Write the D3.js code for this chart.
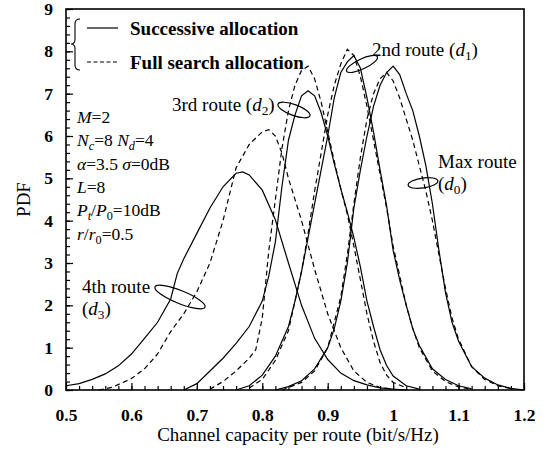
<!DOCTYPE html>
<html><head><meta charset="utf-8">
<script src="https://cdn.jsdelivr.net/npm/d3@7"></script>
<style>
body{margin:0;background:#fff}
svg{display:block}
text{font-family:"Liberation Serif","Times New Roman",serif;fill:#000}
</style>
</head><body>
<svg id="c" width="546" height="450"></svg>
<script>
// ---- data ----
const xTickValues = [0.5, 0.6, 0.7, 0.8, 0.9, 1.0, 1.1, 1.2];
const xTickLabels = ["0.5", "0.6", "0.7", "0.8", "0.9", "1", "1.1", "1.2"];
const yTickValues = [0, 1, 2, 3, 4, 5, 6, 7, 8, 9];
const yTickLabels = ["0", "1", "2", "3", "4", "5", "6", "7", "8", "9"];

// 4th route (d3)
const capSucc3 = [0.50,0.52,0.54,0.56,0.58,0.60,0.62,0.64,0.66,0.67,0.68,0.70,0.72,0.74,0.76,0.77,0.78,0.80,0.82,0.84,0.86,0.88,0.90,0.92,0.94,0.96,0.98,1.00,1.02];
const pdfSucc3 = [0.10,0.15,0.25,0.38,0.57,0.85,1.22,1.60,2.15,2.75,3.10,3.70,4.30,4.80,5.12,5.15,5.08,4.72,4.02,3.00,2.00,1.22,0.72,0.40,0.22,0.12,0.05,0.02,0.00];
const capFull3 = [0.55,0.57,0.60,0.62,0.64,0.66,0.68,0.70,0.72,0.74,0.76,0.78,0.80,0.81,0.82,0.83,0.84,0.86,0.88,0.90,0.92,0.94,0.96,0.98,1.00];
const pdfFull3 = [0.00,0.06,0.27,0.50,0.85,1.38,1.80,2.32,3.00,4.00,5.25,5.80,6.10,6.15,6.00,5.60,5.00,4.00,2.85,1.80,1.00,0.45,0.18,0.06,0.02];

// 3rd route (d2)
const capSucc2 = [0.68,0.70,0.72,0.74,0.76,0.78,0.80,0.81,0.82,0.83,0.84,0.85,0.86,0.87,0.88,0.89,0.90,0.91,0.92,0.93,0.94,0.95,0.96,0.97,0.98,0.99,1.00,1.02,1.04];
const pdfSucc2 = [0.00,0.15,0.45,0.75,1.10,1.50,2.10,2.70,3.50,4.80,5.90,6.50,6.95,7.07,6.95,6.55,6.00,5.35,4.75,4.20,3.60,2.90,2.10,1.50,0.95,0.58,0.33,0.10,0.02];
const capFull2 = [0.72,0.74,0.76,0.78,0.79,0.80,0.81,0.82,0.83,0.84,0.85,0.86,0.87,0.88,0.89,0.90,0.91,0.92,0.93,0.94,0.95,0.96,0.97,0.98,0.99,1.00,1.02];
const pdfFull2 = [0.02,0.20,0.45,0.75,0.95,1.70,3.30,4.50,5.70,6.60,7.20,7.55,7.65,7.35,6.80,6.10,5.40,4.75,4.15,3.40,2.60,1.80,1.15,0.65,0.35,0.18,0.05];

// 2nd route (d1)
const capSucc1 = [0.76,0.78,0.80,0.82,0.84,0.85,0.86,0.87,0.88,0.89,0.90,0.91,0.92,0.93,0.94,0.95,0.96,0.97,0.98,0.99,1.00,1.01,1.02,1.03,1.04,1.06,1.08,1.10,1.12];
const pdfSucc1 = [0.00,0.10,0.35,0.80,1.50,2.10,2.80,3.60,4.40,5.20,6.00,6.90,7.50,7.75,7.90,7.60,6.90,6.10,5.20,4.35,3.30,2.60,2.00,1.45,1.05,0.50,0.25,0.10,0.03];
const capFull1 = [0.78,0.80,0.82,0.84,0.86,0.87,0.88,0.89,0.90,0.91,0.92,0.93,0.94,0.95,0.96,0.97,0.98,0.99,1.00,1.01,1.02,1.03,1.04,1.06,1.08,1.10,1.12];
const pdfFull1 = [0.05,0.25,0.70,1.40,2.80,3.70,4.70,5.60,6.50,7.20,7.70,8.05,7.90,7.40,6.70,5.90,5.10,4.30,3.40,2.70,2.00,1.45,1.00,0.45,0.20,0.07,0.02];

// Max route (d0)
const capSucc0 = [0.82,0.84,0.86,0.88,0.90,0.91,0.92,0.93,0.94,0.95,0.96,0.97,0.98,0.99,1.00,1.01,1.02,1.03,1.04,1.05,1.06,1.07,1.08,1.09,1.10,1.12,1.14,1.16,1.18,1.20];
const pdfSucc0 = [0.00,0.08,0.22,0.50,1.00,1.45,2.10,3.00,4.30,5.20,6.00,6.70,7.20,7.50,7.65,7.45,7.00,6.60,6.00,5.30,4.40,3.30,2.30,1.60,1.15,0.55,0.28,0.12,0.04,0.00];
const capFull0 = [0.83,0.86,0.88,0.90,0.92,0.93,0.94,0.95,0.96,0.97,0.98,0.99,1.00,1.01,1.02,1.03,1.04,1.05,1.06,1.07,1.08,1.09,1.10,1.12,1.14,1.16,1.18];
const pdfFull0 = [0.00,0.18,0.45,1.00,2.20,3.20,4.40,5.50,6.40,7.00,7.35,7.50,7.30,6.90,6.40,5.90,5.30,4.70,4.00,3.20,2.40,1.70,1.20,0.55,0.25,0.10,0.03];

const seriesNames = ["Successive allocation", "Full search allocation"];

// ---- drawing ----
const svg = d3.select("#c");
const L = 66, R = 524, T = 9, B = 390;
const x = d3.scaleLinear().domain([0.5, 1.2]).range([L, R]);
const y = d3.scaleLinear().domain([0, 9]).range([B, T]);

const series = [
  {c: capSucc3, p: pdfSucc3, dash: false},
  {c: capFull3, p: pdfFull3, dash: true},
  {c: capSucc2, p: pdfSucc2, dash: false},
  {c: capFull2, p: pdfFull2, dash: true},
  {c: capSucc1, p: pdfSucc1, dash: false},
  {c: capFull1, p: pdfFull1, dash: true},
  {c: capSucc0, p: pdfSucc0, dash: false},
  {c: capFull0, p: pdfFull0, dash: true}
];

const line = d3.line().x(d => x(d[0])).y(d => y(d[1]));
svg.append("g").selectAll("path").data(series).join("path")
  .attr("d", s => line(s.c.map((v, i) => [v, s.p[i]])))
  .attr("fill", "none").attr("stroke", "#000").attr("stroke-width", 1.2)
  .attr("stroke-dasharray", s => s.dash ? "5,3.5" : null);

// axes
const xMinor = d3.range(0.5, 1.2001, 0.02);
const yMinor = d3.range(0, 9.001, 0.2);
svg.append("g").attr("transform", `translate(0,${B})`)
  .call(d3.axisBottom(x).tickValues(xMinor).tickSize(-4).tickFormat(""))
  .call(g => g.select(".domain").remove())
  .call(g => g.selectAll("line").attr("stroke-width", 1.2));
svg.append("g").attr("transform", `translate(0,${B})`)
  .call(d3.axisBottom(x).tickValues(xTickValues).tickSize(-7).tickPadding(19)
        .tickFormat((d, i) => xTickLabels[i]))
  .call(g => g.select(".domain").remove())
  .call(g => g.selectAll("line").attr("stroke-width", 1.2))
  .call(g => g.selectAll("text").attr("font-size", 17.5).attr("font-weight", "bold")
        .attr("font-family", "Liberation Serif").attr("fill", "#000"));
svg.append("g").attr("transform", `translate(${L},0)`)
  .call(d3.axisLeft(y).tickValues(yMinor).tickSize(-4).tickFormat(""))
  .call(g => g.select(".domain").remove())
  .call(g => g.selectAll("line").attr("stroke-width", 1.2));
svg.append("g").attr("transform", `translate(${L},0)`)
  .call(d3.axisLeft(y).tickValues(yTickValues).tickSize(-7).tickPadding(13)
        .tickFormat((d, i) => yTickLabels[i]))
  .call(g => g.select(".domain").remove())
  .call(g => g.selectAll("line").attr("stroke-width", 1.2))
  .call(g => g.selectAll("text").attr("font-size", 17.5).attr("font-weight", "bold")
        .attr("font-family", "Liberation Serif").attr("fill", "#000"));

// frame
svg.append("rect").attr("x", L).attr("y", T).attr("width", R - L).attr("height", B - T)
  .attr("fill", "none").attr("stroke", "#000").attr("stroke-width", 1.6);

// axis titles
svg.append("text").attr("x", 298).attr("y", 441).attr("text-anchor", "middle")
  .attr("font-size", 19).text("Channel capacity per route (bit/s/Hz)");
svg.append("text").attr("transform", `translate(30,${(T + B) / 2}) rotate(-90)`)
  .attr("text-anchor", "middle").attr("font-size", 19).text("PDF");

// legend
svg.append("path").attr("d", "M80,19 Q75,19 75,24 L75,39 Q75,44 71,44 Q75,44 75,49 L75,65 Q75,70 80,70")
  .attr("fill", "none").attr("stroke", "#000").attr("stroke-width", 1.1);
const leg = [{y: 28, dash: false, t: seriesNames[0]}, {y: 62, dash: true, t: seriesNames[1]}];
leg.forEach(l => {
  svg.append("line").attr("x1", 87).attr("x2", 118).attr("y1", l.y).attr("y2", l.y)
    .attr("stroke", "#000").attr("stroke-width", 1.2).attr("stroke-dasharray", l.dash ? "4,2.5" : null);
  svg.append("text").attr("x", 130).attr("y", l.y + 6.5).attr("font-size", 19)
    .attr("font-weight", "bold").text(l.t);
});

// rich text helper
function rich(xp, yp, parts, size) {
  const t = svg.append("text").attr("x", xp).attr("y", yp).attr("font-size", size);
  let sub = false;
  parts.forEach(p => {
    const ts = t.append("tspan").text(p.t);
    if (p.i) ts.attr("font-style", "italic");
    if (p.s && !sub) { ts.attr("dy", 4).attr("font-size", size * 0.7); sub = true; }
    else if (p.s) { ts.attr("font-size", size * 0.7); }
    else if (sub) { ts.attr("dy", -4); sub = false; }
  });
  return t;
}
const fs = 17.5, fr = 19;
const py0 = 123, dyp = 23.3;
rich(77, py0, [{t: "M", i: 1}, {t: "=2"}], fs);
rich(77, py0 + dyp, [{t: "N", i: 1}, {t: "c", i: 1, s: 1}, {t: "=8 "}, {t: "N", i: 1}, {t: "d", i: 1, s: 1}, {t: "=4"}], fs);
rich(77, py0 + 2 * dyp, [{t: "α", i: 1}, {t: "=3.5 "}, {t: "σ", i: 1}, {t: "=0dB"}], fs);
rich(77, py0 + 3 * dyp, [{t: "L", i: 1}, {t: "=8"}], fs);
rich(77, py0 + 4 * dyp, [{t: "P", i: 1}, {t: "t", i: 1, s: 1}, {t: "/"}, {t: "P", i: 1}, {t: "0", s: 1}, {t: "=10dB"}], fs);
rich(77, py0 + 5 * dyp, [{t: "r", i: 1}, {t: "/"}, {t: "r", i: 1}, {t: "0", s: 1}, {t: "=0.5"}], fs);

// route labels
rich(372, 56, [{t: "2nd route ("}, {t: "d", i: 1}, {t: "1", s: 1}, {t: ")"}], fr);
rich(172, 111, [{t: "3rd route ("}, {t: "d", i: 1}, {t: "2", s: 1}, {t: ")"}], fr);
rich(438, 168, [{t: "Max route"}], fr);
rich(438, 190, [{t: "("}, {t: "d", i: 1}, {t: "0", s: 1}, {t: ")"}], fr);
rich(82, 293, [{t: "4th route"}], fr);
rich(82, 315, [{t: "("}, {t: "d", i: 1}, {t: "3", s: 1}, {t: ")"}], fr);

// ellipses
const ells = [
  {cx: 362, cy: 64, rx: 17, ry: 5, a: -25},
  {cx: 294, cy: 110, rx: 17, ry: 5.5, a: 20},
  {cx: 423, cy: 183, rx: 15, ry: 5, a: -8},
  {cx: 180, cy: 297, rx: 27, ry: 6.5, a: 22}
];
svg.append("g").selectAll("ellipse").data(ells).join("ellipse")
  .attr("cx", 0).attr("cy", 0).attr("rx", e => e.rx).attr("ry", e => e.ry)
  .attr("transform", e => `translate(${e.cx},${e.cy}) rotate(${e.a})`)
  .attr("fill", "none").attr("stroke", "#000").attr("stroke-width", 1.2);
</script>
</body></html>
